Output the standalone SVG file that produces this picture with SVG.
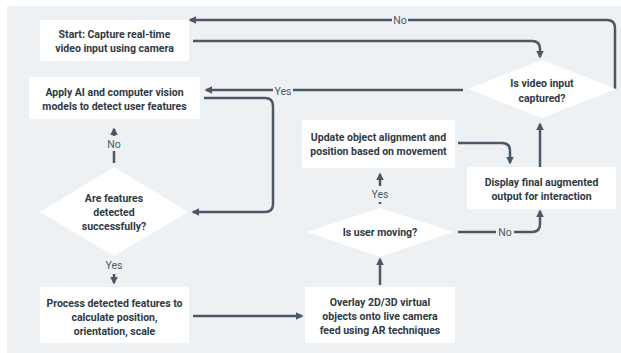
<svg xmlns="http://www.w3.org/2000/svg" width="621" height="353" viewBox="0 0 621 353">
<defs>
<marker id="ah" viewBox="0 0 10 10" refX="8" refY="5" markerWidth="3.2" markerHeight="3.2" orient="auto" markerUnits="strokeWidth">
<path d="M0,0 L10,5 L0,10 Z" fill="#4b5966"/>
</marker>
</defs>
<style>
.bg{fill:#eef1f4}
.box{fill:#ffffff}
.t{font-family:Roboto,"Liberation Sans",sans-serif;font-weight:bold;font-size:10.5px;fill:#2f3a44;text-anchor:middle;dominant-baseline:central}
.lbl{font-family:Roboto,"Liberation Sans",sans-serif;font-size:10.5px;fill:#4b5966;text-anchor:middle;dominant-baseline:central}
.c{fill:none;stroke:#4b5966;stroke-width:2.5;marker-end:url(#ah)}
.cn{fill:none;stroke:#4b5966;stroke-width:2.5}
.lb{fill:#eef1f4}
</style>
<rect class="bg" x="7" y="6" width="614" height="347"/>
<g id="connectors">
<path class="c" d="M615,89 V28 Q615,20 607,20 H190"/>
<rect class="lb" x="392" y="13" width="16" height="14"/>
<text class="lbl" x="400" y="20">No</text>
<path class="c" d="M193,41 H532 Q540,41 540,49 V57"/>
<path class="c" d="M463,90 H206"/>
<rect class="lb" x="273" y="84" width="20" height="14"/>
<text class="lbl" x="283" y="91">Yes</text>
<path class="c" d="M204,98 H265 Q273,98 273,106 V204 Q273,212 265,212 H193"/>
<path class="c" d="M114,163 V129"/>
<rect class="lb" x="105" y="136" width="18" height="15"/>
<text class="lbl" x="114" y="144">No</text>
<text class="lbl" x="114" y="265">Yes</text>
<path class="c" d="M114,274 V283"/>
<path class="c" d="M193,316 H302"/>
<path class="c" d="M380,285 V259"/>
<path class="cn" d="M380,202 V204"/>
<path class="c" d="M380,186 V174"/>
<text class="lbl" x="380" y="194">Yes</text>
<path class="c" d="M458,143 H502 Q510,143 510,151 V163"/>
<path class="c" d="M458,232 H532 Q540,232 540,224 V211"/>
<rect class="lb" x="496" y="225" width="18" height="14"/>
<text class="lbl" x="505" y="232">No</text>
<path class="c" d="M540,167 V124"/>
</g>
<g id="start">
<rect class="box" x="40" y="20" width="149" height="41"/>
<text class="t" x="114.5" y="34">Start: Capture real-time</text>
<text class="t" x="114.5" y="48">video input using camera</text>
</g>
<g id="apply">
<rect class="box" x="29" y="77" width="171" height="42"/>
<text class="t" x="114.5" y="92">Apply AI and computer vision</text>
<text class="t" x="114.5" y="106">models to detect user features</text>
</g>
<g id="features">
<polygon class="box" points="114,167 188,212 114,256 40,212"/>
<text class="t" x="114" y="198">Are features</text>
<text class="t" x="114" y="212">detected</text>
<text class="t" x="114" y="226">successfully?</text>
</g>
<g id="process">
<rect class="box" x="40" y="287" width="149" height="56"/>
<text class="t" x="114.5" y="303">Process detected features to</text>
<text class="t" x="114.5" y="317">calculate position,</text>
<text class="t" x="114.5" y="331">orientation, scale</text>
</g>
<g id="overlay">
<rect class="box" x="305" y="287" width="150" height="56"/>
<text class="t" x="380" y="302">Overlay 2D/3D virtual</text>
<text class="t" x="380" y="316">objects onto live camera</text>
<text class="t" x="380" y="330">feed using AR techniques</text>
</g>
<g id="moving">
<polygon class="box" points="380,208 453,232 380,257 307,232"/>
<text class="t" x="380" y="232">Is user moving?</text>
</g>
<g id="update">
<rect class="box" x="302" y="120" width="153" height="48"/>
<text class="t" x="378.5" y="137">Update object alignment and</text>
<text class="t" x="378.5" y="151">position based on movement</text>
</g>
<g id="display">
<rect class="box" x="467" y="167" width="149" height="42"/>
<text class="t" x="541.5" y="182">Display final augmented</text>
<text class="t" x="541.5" y="196">output for interaction</text>
</g>
<g id="video">
<polygon class="box" points="542,60 616,89 542,118 468,89"/>
<text class="t" x="542" y="83">Is video input</text>
<text class="t" x="542" y="98">captured?</text>
</g>
</svg>
